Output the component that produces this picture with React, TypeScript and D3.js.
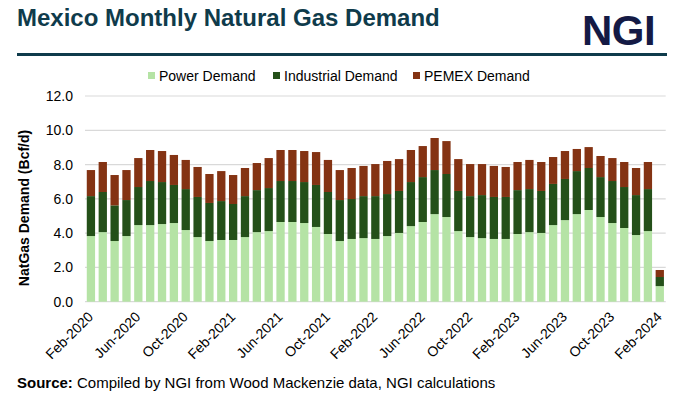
import React from "react";
import * as d3 from "d3";

const months: string[] = (() => {
  const names = ["Jan","Feb","Mar","Apr","May","Jun","Jul","Aug","Sep","Oct","Nov","Dec"];
  const out: string[] = [];
  for (let i = 0; i < 49; i++) {
    const m = (1 + i) % 12;
    const y = 2020 + Math.floor((1 + i) / 12);
    out.push(`${names[m]}-${y}`);
  }
  return out;
})();

const power = [3.83,4.06,3.54,3.83,4.47,4.47,4.53,4.59,4.18,3.77,3.54,3.60,3.60,3.77,4.06,4.12,4.65,4.65,4.59,4.36,3.95,3.54,3.66,3.71,3.66,3.83,4.01,4.41,4.65,5.11,4.94,4.12,3.77,3.71,3.66,3.66,3.95,4.06,4.01,4.47,4.76,5.11,5.35,4.94,4.59,4.30,3.89,4.12,0.91];
const industrialTop = [6.16,6.40,5.62,5.93,6.69,7.04,6.98,6.81,6.57,6.11,5.76,5.87,5.70,6.16,6.51,6.63,7.04,7.04,6.98,6.81,6.40,5.93,5.99,6.16,6.16,6.28,6.46,6.98,7.27,7.68,7.45,6.46,6.16,6.22,6.11,6.11,6.51,6.57,6.46,6.87,7.16,7.62,7.80,7.27,7.04,6.69,6.22,6.57,1.44];
const pemexTop = [7.68,8.15,7.39,7.68,8.38,8.85,8.79,8.56,8.27,7.86,7.45,7.62,7.39,7.80,8.09,8.38,8.85,8.85,8.79,8.73,8.27,7.68,7.80,7.92,8.03,8.21,8.32,8.85,9.08,9.55,9.37,8.32,8.03,8.03,7.92,7.86,8.15,8.27,8.15,8.44,8.79,8.91,9.02,8.50,8.38,8.15,7.80,8.15,1.85];
const industrial = industrialTop.map((v, i) => +(v - power[i]).toFixed(2));
const pemex = pemexTop.map((v, i) => +(v - industrialTop[i]).toFixed(2));

const seriesNames = ["Power Demand", "Industrial Demand", "PEMEX Demand"];
const seriesColors = ["#b5e3a5", "#245019", "#843313"];
const yTicks = [0, 2, 4, 6, 8, 10, 12];
const xTickLabels = months.filter((_, i) => i % 4 === 0);

const FONT = "Arial, 'Liberation Sans', Helvetica, sans-serif";

export default function App() {
  const W = 684, H = 404;
  const left = 85, right = 665.7, top = 96, bottom = 301.7;
  const x = d3.scaleBand<string>().domain(months).range([left, right]).paddingInner(0.3).paddingOuter(0.15);
  const y = d3.scaleLinear().domain([0, 12]).range([bottom, top]);
  const table = months.map((m, i) => ({ month: m, p: power[i], ind: industrial[i], pem: pemex[i] }));
  const stack = d3.stack<any>().keys(["p", "ind", "pem"])(table);

  const legendX = [148, 273, 413];

  return (
    <svg width={W} height={H} style={{ position: "absolute", left: 0, top: 0, background: "#fff" }} fontFamily={FONT}>
      <rect x={0} y={0} width={W} height={H} fill="#fff" />
      <text x={17} y={26} fontSize={24} fontWeight="bold" fill="#0f3b4b">Mexico Monthly Natural Gas Demand</text>
      <text x={582} y={45} fontSize={42} fontWeight="bold" fill="#141a45" letterSpacing={-0.5}>NGI</text>
      <rect x={17} y={53} width={650} height={3} fill="#0f3b4b" />

      {seriesNames.map((n, i) => (
        <g key={n}>
          <rect x={legendX[i]} y={72} width={7} height={7} fill={seriesColors[i]} />
          <text x={legendX[i] + 11} y={81} fontSize={14} fill="#000">{n}</text>
        </g>
      ))}

      {yTicks.map((t) => (
        <g key={t}>
          <line x1={left} x2={right} y1={y(t)} y2={y(t)} stroke="#d9d9d9" strokeWidth={1.2} />
          <text x={73} y={y(t) + 5} fontSize={14} textAnchor="end" fill="#000">{t.toFixed(1)}</text>
        </g>
      ))}

      <text transform={`translate(29,208) rotate(-90)`} textAnchor="middle" fontSize={14} fontWeight="bold" fill="#000">NatGas Demand (Bcf/d)</text>

      {stack.map((s, si) => (
        <g key={si} fill={seriesColors[si]}>
          {s.map((d: any, i: number) => (
            <rect key={i} x={x(months[i])} y={y(d[1])} width={x.bandwidth()} height={Math.max(0, y(d[0]) - y(d[1]))} />
          ))}
        </g>
      ))}

      {xTickLabels.map((m) => {
        const cx = (x(m) as number) + x.bandwidth() / 2 + 3;
        return (
          <text key={m} transform={`translate(${cx},${bottom + 16}) rotate(-45)`} textAnchor="end" fontSize={14} fill="#000">{m}</text>
        );
      })}

      <text x={17} y={388} fontSize={15} fill="#000">
        <tspan fontWeight="bold">Source:</tspan> Compiled by NGI from Wood Mackenzie data, NGI calculations
      </text>
    </svg>
  );
}
